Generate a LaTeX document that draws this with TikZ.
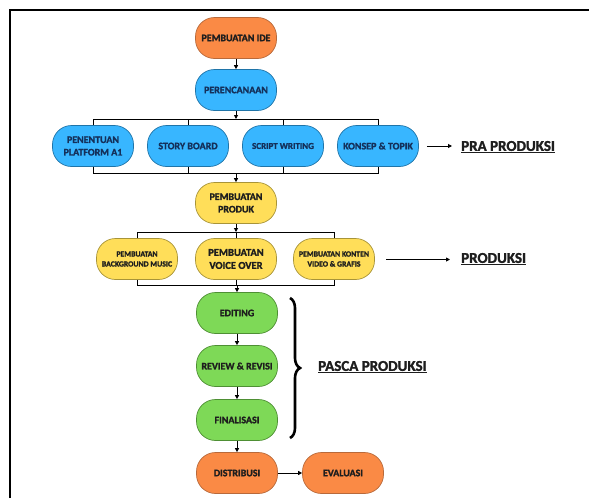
\documentclass[tikz,border=0pt]{standalone}
\usepackage{fontspec}
\setmainfont{Carlito}[BoldFeatures={FakeBold=1.6}]
\usetikzlibrary{arrows.meta,decorations.pathreplacing}
\definecolor{corange}{HTML}{FA8A45}
\definecolor{borange}{HTML}{B8693A}
\definecolor{cblue}{HTML}{38B6FF}
\definecolor{bblue}{HTML}{1F74A8}
\definecolor{cyellow}{HTML}{FFDE59}
\definecolor{byellow}{HTML}{A89438}
\definecolor{cgreen}{HTML}{7ED957}
\definecolor{bgreen}{HTML}{4E8F34}
\definecolor{tdark}{HTML}{1E1E1E}
\definecolor{tnavy}{HTML}{14305A}
\tikzset{
  pill/.style={rounded corners=19pt, minimum width=81pt, minimum height=41pt,
    inner sep=1pt, align=center, font=\bfseries\fontsize{10}{12.5}\selectfont,
    line width=0.7pt, text=tdark},
  pillO/.style={pill, fill=corange, draw=borange},
  pillB/.style={pill, fill=cblue, draw=bblue, text=tnavy},
  pillY/.style={pill, fill=cyellow, draw=byellow},
  pillG/.style={pill, fill=cgreen, draw=bgreen},
  small/.style={font=\bfseries\fontsize{7.8}{10}\selectfont},
  conn/.style={line width=0.9pt, draw=black},
  arr/.style={conn, -{Triangle[length=4pt,width=4pt]}},
  stage/.style={font=\bfseries\fontsize{15}{18}\selectfont, text=tdark, anchor=west, inner sep=0pt}
}
\begin{document}
\begin{tikzpicture}[x=1pt,y=-1pt]
\useasboundingbox (0,0) rectangle (589,498);
\fill[white] (0,0) rectangle (589,498);
% frame
\draw[line width=2.4pt, black] (10,498) -- (10,10) -- (589,10);

% nodes
\node[pillO] (ide) at (236,38) {PEMBUATAN IDE};
\node[pillB] (ren) at (236,90) {PERENCANAAN};
\node[pillB] (pen) at (93,146) {PENENTUAN\\PLATFORM A1};
\node[pillB] (sto) at (188,146) {STORY BOARD};
\node[pillB, font=\bfseries\fontsize{9}{11}\selectfont] (scr) at (283,146) {SCRIPT WRITING};
\node[pillB] (kon) at (378,146) {KONSEP \& TOPIK};
\node[pillY] (pro) at (236,203) {PEMBUATAN\\PRODUK};
\node[pillY, small] (bgm) at (137,259) {PEMBUATAN\\BACKGROUND MUSIC};
\node[pillY, font=\bfseries\fontsize{10.5}{13}\selectfont] (voi) at (236,259) {PEMBUATAN\\VOICE OVER};
\node[pillY, small] (vid) at (334,259) {PEMBUATAN KONTEN\\VIDEO \& GRAFIS};
\node[pillG] (edi) at (237,313) {EDITING};
\node[pillG] (rev) at (237,366) {REVIEW \& REVISI};
\node[pillG] (fin) at (237,420) {FINALISASI};
\node[pillO] (dis) at (237,473) {DISTRIBUSI};
\node[pillO] (eva) at (343,473) {EVALUASI};

% bus coordinates
\coordinate (b1) at (236,119);
\coordinate (b2) at (236,173);
\coordinate (b3) at (236,232);
\coordinate (b4) at (236,285);

% connectors
\draw[arr] (ide) -- (ren);
\draw[arr] (ren) -- (b1);
\draw[conn] (pen.north) -- (pen |- b1) -- (kon |- b1) -- (kon.north);
\draw[conn] (sto.north) -- (sto |- b1);
\draw[conn] (scr.north) -- (scr |- b1);
\draw[conn] (pen.south) -- (pen |- b2) -- (kon |- b2) -- (kon.south);
\draw[conn] (sto.south) -- (sto |- b2);
\draw[conn] (scr.south) -- (scr |- b2);
\draw[arr] (b2) -- (pro);
\draw[arr] (pro) -- (b3);
\draw[conn] (bgm.north) -- (bgm |- b3) -- (vid |- b3) -- (vid.north);
\draw[conn] (voi.north) -- (voi |- b3);
\draw[conn] (bgm.south) -- (bgm |- b4) -- (vid |- b4) -- (vid.south);
\draw[conn] (voi.south) -- (voi |- b4);
\draw[arr] (b4 -| edi) -- (edi);
\draw[arr] (edi) -- (rev);
\draw[arr] (rev) -- (fin);
\draw[arr] (fin) -- (dis);
\draw[arr] (dis) -- (eva);

% stage labels
\node[stage] (pra) at (461,147) {\underline{PRA PRODUKSI}};
\node[stage] (prod) at (461,259) {\underline{PRODUKSI}};
\node[stage] (pasca) at (318,367) {\underline{PASCA PRODUKSI}};
\coordinate (pa) at (452,146);
\coordinate (pb) at (450,259.5);
\coordinate (va) at (386,259.5);
\draw[arr] (kon.east) ++(8,0) -- (pa);
\draw[arr] (va) -- (pb);

% brace
\coordinate (brt) at (290,298);
\coordinate (brb) at (290,438);
\draw[line width=2.6pt, decorate, decoration={brace, amplitude=10pt}] (brt) -- (brb);
\end{tikzpicture}
\end{document}
